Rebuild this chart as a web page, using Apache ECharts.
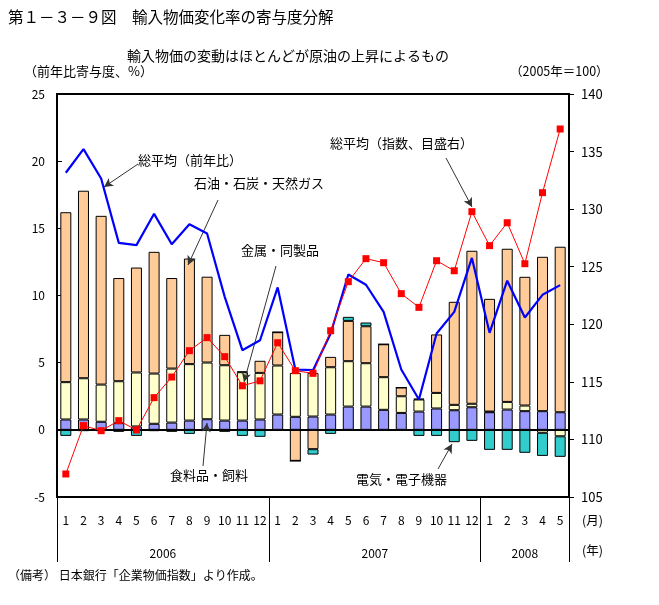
<!DOCTYPE html>
<html><head><meta charset="utf-8">
<script src="https://cdn.jsdelivr.net/npm/echarts@6/dist/echarts.min.js"></script>
<style>html,body{margin:0;padding:0;background:#fff}#c{width:659px;height:605px}</style>
</head><body><div id="c"></div>
<script>
const months = ['1','2','3','4','5','6','7','8','9','10','11','12','1','2','3','4','5','6','7','8','9','10','11','12','1','2','3','4','5'];
const years = ['2006','2007','2008'];
const yearBounds = [0, 12, 24, 29];
const yearMids = [6, 18, 26.5];
const food = [0.77,0.77,0.6,0.5,0.25,0.45,0.54,0.69,0.79,0.69,0.69,0.77, 1.14,0.97,0.99,1.14,1.73,1.73,1.49,1.26,1.36,1.59,1.46,1.68, 1.31,1.51,1.39,1.39,1.31];
const metal = [2.78,3.07,2.77,3.12,4.02,3.74,4.02,4.2,4.22,4.12,3.6,3.47, 3.65,3.27,3.25,3.52,3.38,3.23,2.43,1.24,0.9,1.16,0.4,0.26, 0.05,0.57,0.42,-0.22,-0.48];
const oil = [12.65,13.96,12.56,7.68,7.81,9.06,6.74,7.86,6.39,2.26,0.05,0.9, 2.48,-2.31,-1.44,0.77,3.0,2.75,2.45,0.65,0.05,4.35,7.67,11.39, 8.39,11.4,9.58,11.49,12.32];
const elec = [-0.45,-0.1,-0.1,-0.15,-0.45,-0.1,-0.15,-0.3,-0.05,-0.15,-0.45,-0.52, 0,0,-0.4,-0.3,0.3,0.28,0,0,-0.45,-0.45,-0.92,-0.82, -1.49,-1.49,-1.71,-1.72,-1.53];
const totalYoY = [19.14,20.9,18.71,13.92,13.75,16.08,13.82,15.31,14.62,9.9,5.93,6.67, 10.6,4.49,4.44,7.17,11.56,10.8,8.78,4.49,2.26,7.17,8.78,12.8, 7.22,11.1,8.36,10.05,10.77];
const totalIndex = [107.0,111.2,110.76,111.63,110.82,113.63,115.42,117.71,118.84,117.19,114.66,115.09, 118.4,115.97,115.74,119.44,123.7,125.7,125.35,122.66,121.47,125.52,124.65,129.78, 126.83,128.82,125.26,131.43,136.96];
const leftTicks = {min:-5, max:25, interval:5};
const rightTicks = {min:105, max:140, interval:5};

const FONT = '"Noto Sans CJK JP", sans-serif';
const chart = echarts.init(document.getElementById('c'), null, {renderer:'canvas'});
const barCommon = {type:'bar', stack:'a', barWidth:11, xAxisIndex:0, yAxisIndex:0};
function txt(x, y, s, size){ return {type:'text', left:x, top:y, style:{text:s, font:size+'px '+FONT, fill:'#000'}}; }
function arrow(x1,y1,x2,y2){ return [{x:x1,y:y1},{x:x2,y:y2}]; }

chart.setOption({
  animation:false,
  textStyle:{fontFamily:FONT},
  grid:{left:57, right:90, top:94, bottom:108, show:true, borderColor:'#000', borderWidth:2},
  xAxis:[
    {type:'category', data:months, position:'bottom',
     axisLine:{lineStyle:{color:'#000', width:2}},
     axisTick:{interval:0, length:35, lineStyle:{color:'#000'}},
     axisLabel:{interval:0, color:'#000', fontSize:12, margin:17, fontFamily:FONT}},
    {type:'value', min:0, max:29, position:'bottom',
     axisLine:{show:false}, splitLine:{show:false},
     axisTick:{show:true, customValues:yearBounds, length:65, lineStyle:{color:'#000'}},
     axisLabel:{customValues:yearMids, color:'#000', fontSize:12, margin:50, fontFamily:FONT,
       formatter:function(v){ const i = yearMids.indexOf(v); return i>=0 ? years[i] : ''; }}}
  ],
  yAxis:[
    {type:'value', min:leftTicks.min, max:leftTicks.max, interval:leftTicks.interval,
     axisLine:{show:true, lineStyle:{color:'#000', width:2}},
     axisTick:{show:true, inside:true, length:5, lineStyle:{color:'#000'}},
     axisLabel:{color:'#000', fontSize:12, margin:12, fontFamily:FONT},
     splitLine:{show:false}},
    {type:'value', min:rightTicks.min, max:rightTicks.max, interval:rightTicks.interval, position:'right',
     axisLine:{show:true, lineStyle:{color:'#000', width:2}},
     axisTick:{show:true, inside:false, length:5, lineStyle:{color:'#000'}},
     axisLabel:{color:'#000', fontSize:13, margin:12, fontFamily:FONT},
     splitLine:{show:false}}
  ],
  series:[
    Object.assign({}, barCommon, {name:'食料品・飼料', data:food, itemStyle:{color:'#9999FF', borderColor:'#000', borderWidth:1},
      markLine:{silent:true, symbol:'none', label:{show:false}, lineStyle:{color:'#000', type:'solid', width:1},
        data:[{yAxis:0}]}}),
    Object.assign({}, barCommon, {name:'金属・同製品', data:metal, itemStyle:{color:'#FFFFCC', borderColor:'#000', borderWidth:1}}),
    Object.assign({}, barCommon, {name:'石油・石炭・天然ガス', data:oil, itemStyle:{color:'#FFCC99', borderColor:'#000', borderWidth:1}}),
    Object.assign({}, barCommon, {name:'電気・電子機器', data:elec, itemStyle:{color:'#33CCCC', borderColor:'#000', borderWidth:1}}),
    {name:'総平均（前年比）', type:'line', data:totalYoY, xAxisIndex:0, yAxisIndex:0, symbol:'none', z:5,
     lineStyle:{color:'#0000FF', width:2.2}},
    {name:'総平均（指数、目盛右）', type:'line', data:totalIndex, xAxisIndex:0, yAxisIndex:1, symbol:'rect', symbolSize:7, z:6,
     itemStyle:{color:'#FF0000'}, lineStyle:{color:'#FF0000', width:1},
     markLine:{silent:true, symbol:['none','arrow'], symbolSize:[7,9], label:{show:false},
       lineStyle:{color:'#333', type:'solid', width:1},
       data:[arrow(138,164,104,187), arrow(218,200,188,265), arrow(276,266,244,382),
             arrow(446,158,472,207), arrow(203,466,207,423), arrow(438,469,452,444)]}}
  ],
  graphic:[
    txt(8, 9, '第１－３－９図　輸入物価変化率の寄与度分解', 15.5),
    txt(127, 49, '輸入物価の変動はほとんどが原油の上昇によるもの', 14),
    txt(24, 65, '（前年比寄与度、%）', 13),
    txt(510, 65, '（2005年＝100）', 12.5),
    txt(138, 154, '総平均（前年比）', 13),
    txt(194, 177, '石油・石炭・天然ガス', 13),
    txt(241, 244, '金属・同製品', 13),
    txt(330, 137, '総平均（指数、目盛右）', 13),
    txt(170, 469, '食料品・飼料', 13),
    txt(356, 473, '電気・電子機器', 13),
    txt(582, 514, '(月)', 12.5),
    txt(582, 544, '(年)', 12.5),
    txt(8, 569, '（備考） 日本銀行「企業物価指数」より作成。', 12)
  ]
});
</script></body></html>
